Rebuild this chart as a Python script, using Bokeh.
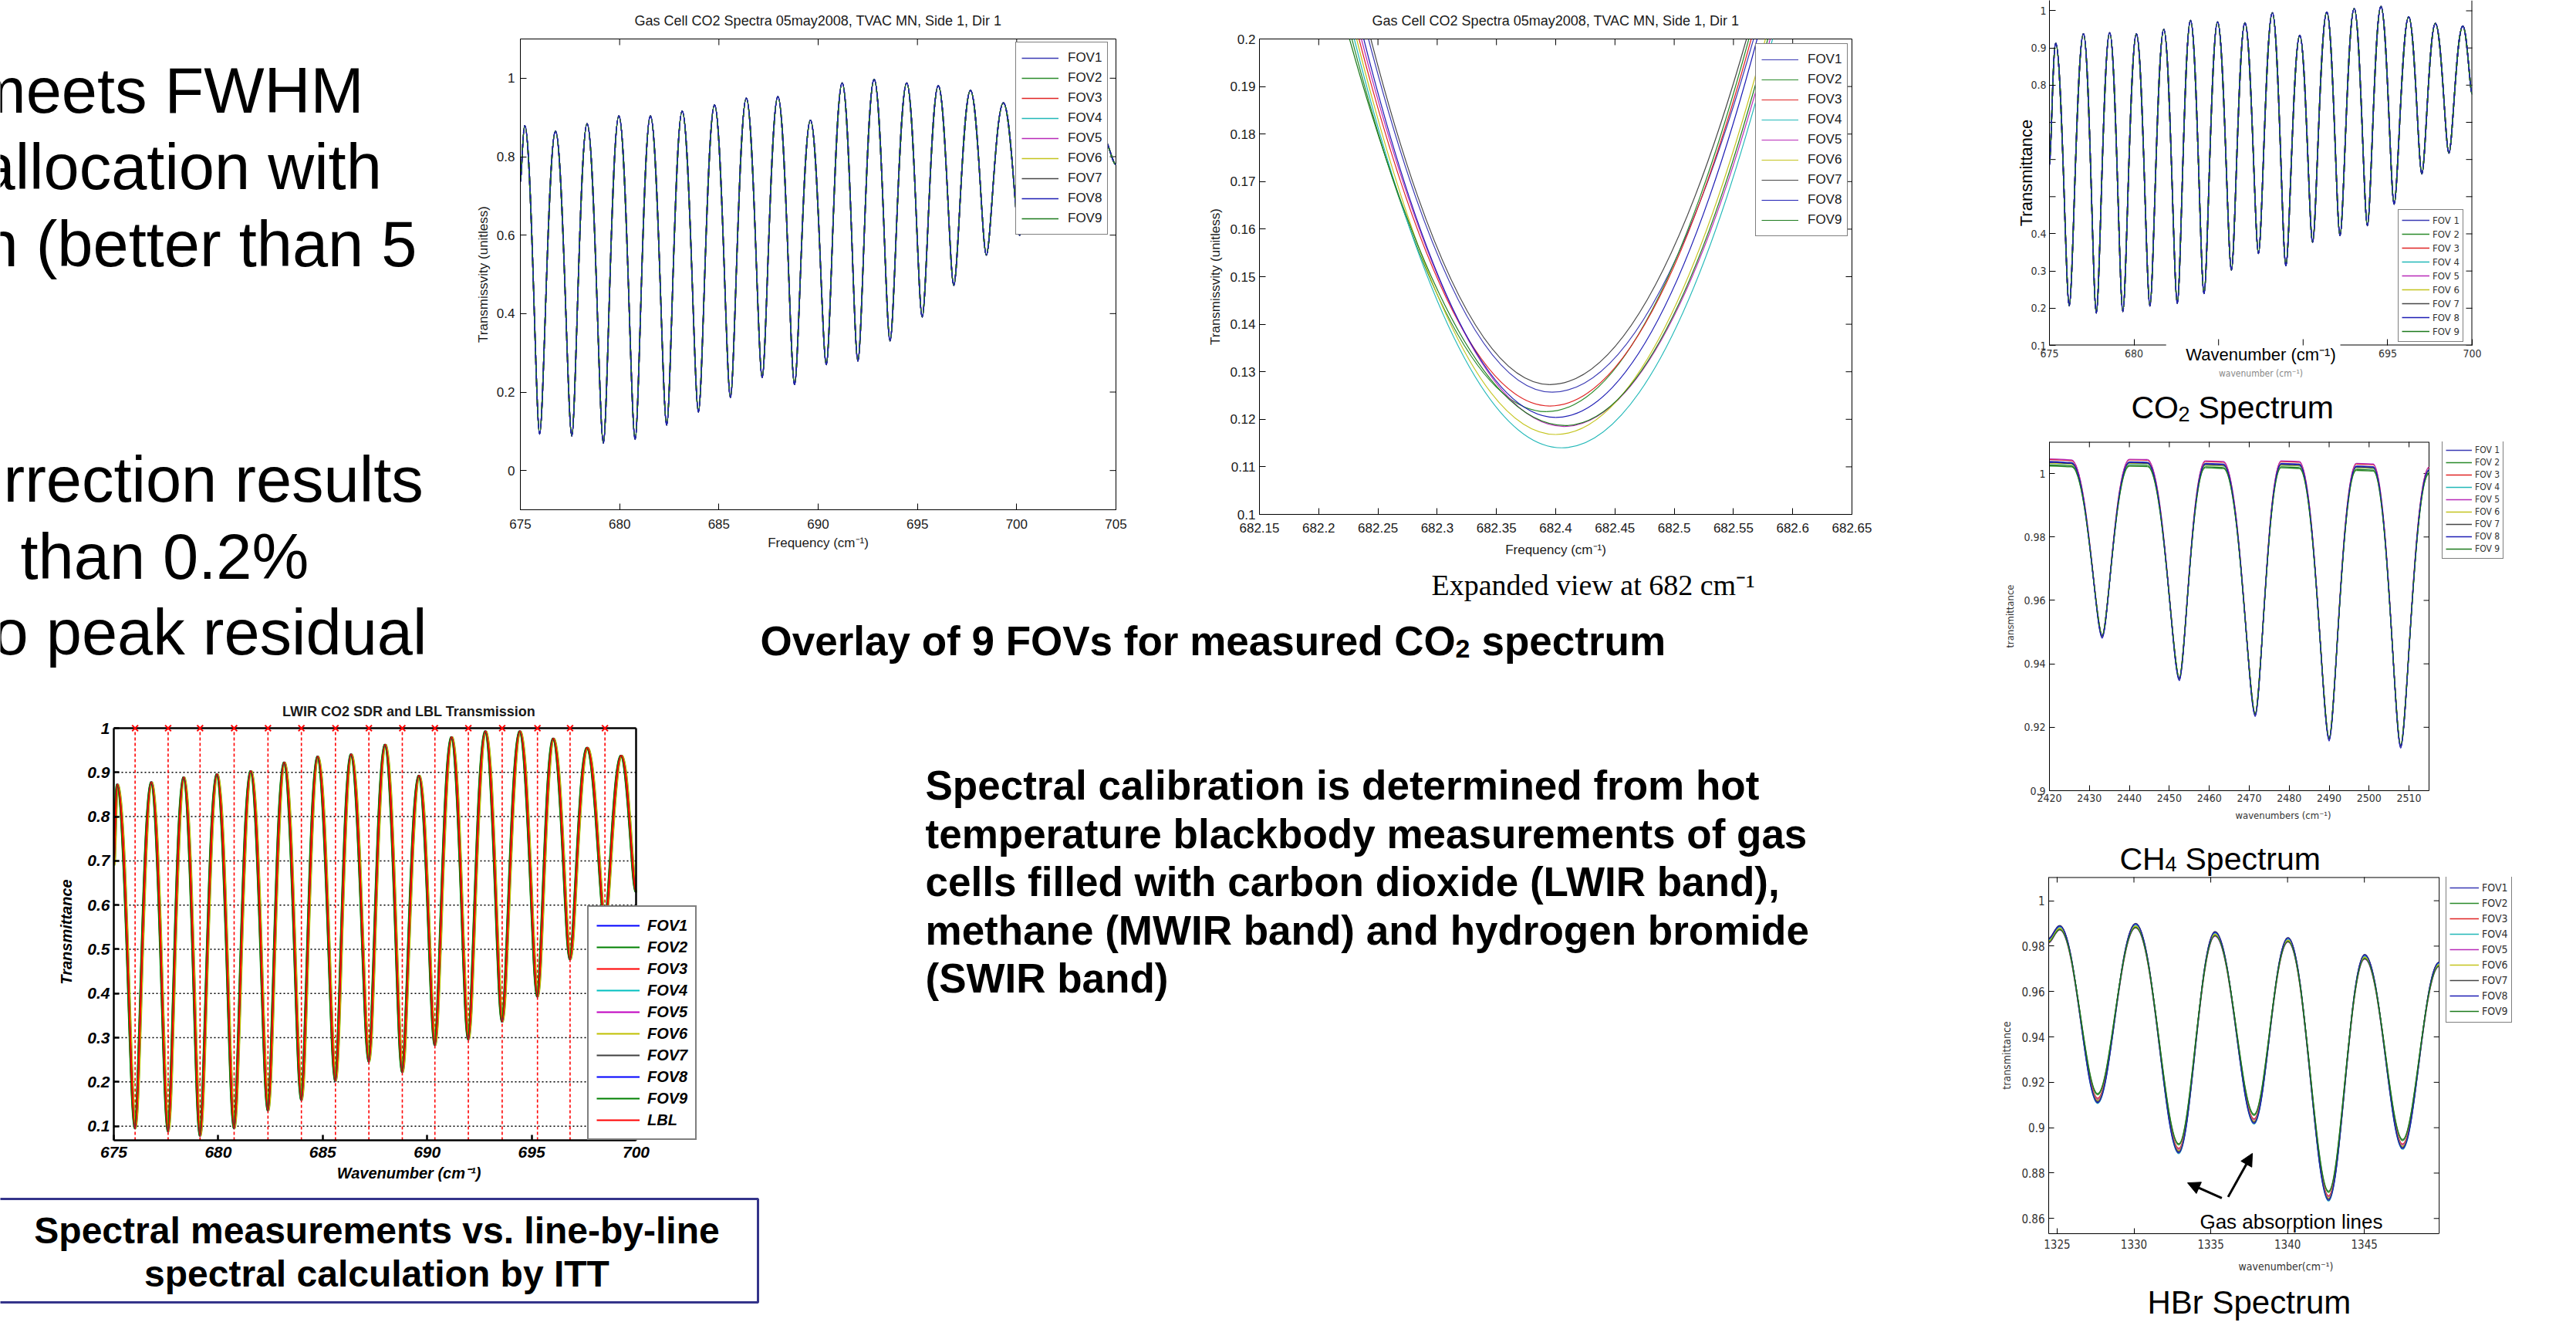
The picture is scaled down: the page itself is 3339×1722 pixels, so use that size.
import numpy as np
from bokeh.plotting import figure
from bokeh.layouts import row, column
from bokeh.models import (Range1d, FixedTicker, LinearAxis, Legend, LegendItem,
                          Arrow, NormalHead, Label, ColumnDataSource)
from bokeh.embed import file_html
from bokeh.resources import INLINE
from bokeh.core.properties import value

# ------------------------------------------------------------------ data ----
FOV_LABELS = ["FOV1", "FOV2", "FOV3", "FOV4", "FOV5", "FOV6", "FOV7", "FOV8", "FOV9"]
FOV_LABELS_SPACED = ["FOV 1", "FOV 2", "FOV 3", "FOV 4", "FOV 5", "FOV 6", "FOV 7", "FOV 8", "FOV 9"]
LWIR_LABELS = FOV_LABELS + ["LBL"]

# Plot 1: Gas Cell CO2 Spectra (675-705), extrema of the (overlapping) FOV spectra
P1_XTICKS = [675, 680, 685, 690, 695, 700, 705]
P1_YTICKS = [0, 0.2, 0.4, 0.6, 0.8, 1.0]
CO2A_X = [675.0, 675.22, 675.97, 676.77, 677.59, 678.36, 679.18, 679.96, 680.78, 681.55,
          682.37, 683.15, 683.97, 684.78, 685.58, 686.38, 687.18, 687.97, 688.81, 689.61,
          690.41, 691.21, 692.0, 692.82, 693.62, 694.46, 695.24, 696.05, 696.83, 697.67,
          698.47, 699.33, 700.15, 700.95, 701.75, 702.6, 703.35, 704.2, 705.0]
CO2A_Y = [0.735, 0.879, 0.093, 0.865, 0.088, 0.884, 0.070, 0.904, 0.079, 0.904,
          0.116, 0.916, 0.149, 0.932, 0.186, 0.949, 0.237, 0.953, 0.219, 0.893,
          0.270, 0.988, 0.279, 0.997, 0.330, 0.988, 0.391, 0.981, 0.472, 0.969,
          0.549, 0.937, 0.600, 0.920, 0.640, 0.900, 0.680, 0.860, 0.780]

# Plot 2: expanded view of the 682.4 line, one curve per FOV
P2_XTICKS = [682.15, 682.2, 682.25, 682.3, 682.35, 682.4, 682.45, 682.5, 682.55, 682.6, 682.65]
P2_YTICKS = [0.1, 0.11, 0.12, 0.13, 0.14, 0.15, 0.16, 0.17, 0.18, 0.19, 0.2]
EXP_EDGE_Y = 0.2
EXP_XLEFT = [682.242, 682.228, 682.234, 682.230, 682.236, 682.232, 682.244, 682.238, 682.226]
EXP_XMIN = [682.397, 682.392, 682.395, 682.405, 682.407, 682.400, 682.395, 682.400, 682.408]
EXP_YMIN = [0.1257, 0.1216, 0.1228, 0.1140, 0.1185, 0.1168, 0.1273, 0.1204, 0.1187]
EXP_XRIGHT = [682.567, 682.563, 682.565, 682.583, 682.581, 682.577, 682.561, 682.570, 682.579]

# Plot 3: CO2 spectrum (right column)
P3_XTICKS = [675, 680, 685, 690, 695, 700]
P3_XLABELLED = [675, 680, 695, 700]
P3_YTICKS = [0.1, 0.2, 0.3, 0.4, 0.5, 0.6, 0.7, 0.8, 0.9, 1.0]
P3_YLABELLED = [0.1, 0.2, 0.3, 0.4, 0.8, 0.9, 1.0]
P3_AXIS_GAP = (681.9, 692.2)
CO2B_X = [675.0, 675.37, 676.17, 677.01, 677.77, 678.56, 679.34, 680.14, 680.94, 681.76,
          682.56, 683.34, 684.14, 684.94, 685.76, 686.56, 687.36, 688.18, 688.98, 689.80,
          690.56, 691.40, 692.18, 693.02, 693.80, 694.60, 695.38, 696.24, 697.02, 697.82,
          698.62, 699.44, 700.0]
CO2B_Y = [0.584, 0.913, 0.206, 0.938, 0.187, 0.941, 0.191, 0.938, 0.206, 0.950,
          0.213, 0.974, 0.239, 0.970, 0.302, 0.968, 0.347, 0.995, 0.314, 0.934,
          0.377, 0.997, 0.395, 1.006, 0.422, 1.012, 0.480, 0.984, 0.561, 0.966,
          0.617, 0.959, 0.776]

# Plot 4: CH4 spectrum (plateau edges and line centres)
CH4_XLIM = (2420, 2515)
CH4_YLIM = (0.9, 1.01)
CH4_XTICKS = [2420, 2430, 2440, 2450, 2460, 2470, 2480, 2490, 2500, 2510]
CH4_YTICKS = [0.9, 0.92, 0.94, 0.96, 0.98, 1.0]
CH4_X = [2420.0, 2425.5, 2433.2, 2440.0, 2444.5, 2452.5, 2459.0, 2463.5, 2471.5,
         2478.0, 2482.5, 2490.0, 2496.8, 2501.0, 2507.9, 2515.0]
CH4_Y = [1.0036, 1.0033, 0.9487, 1.0035, 1.0034, 0.9353, 1.0030, 1.0028, 0.9240,
         1.0030, 1.0028, 0.9163, 1.0022, 1.0020, 0.9140, 1.0010]
CH4_FOV_DPEAK = [0.0002, -0.0012, 0.0008, -0.0004, 0.0010, -0.0003, -0.0001, 0.0, -0.0009]
CH4_FOV_DTROUGH = [-0.0004, 0.0003, 0.0, 0.0002, 0.0, 0.0004, 0.0, -0.0006, 0.0002]

# Plot 5: HBr spectrum
HBR_XLIM = (1324.45, 1349.87)
HBR_YLIM = (0.8533, 1.0104)
HBR_XTICKS = [1325, 1330, 1335, 1340, 1345]
HBR_YTICKS = [0.86, 0.88, 0.9, 0.92, 0.94, 0.96, 0.98, 1.0]
HBR_X = [1324.45, 1325.17, 1327.64, 1330.11, 1332.92, 1335.28, 1337.82, 1340.03,
         1342.67, 1345.02, 1347.49, 1349.87]
HBR_Y = [0.9826, 0.9883, 0.9115, 0.9892, 0.8894, 0.9856, 0.9024, 0.9830,
         0.8685, 0.9755, 0.8913, 0.9722]
HBR_FOV_DPEAK = [0.0005, -0.0008, -0.0005, 0.0, -0.0012, -0.0004, 0.0008, 0.0006, -0.0010]
HBR_FOV_DTROUGH = [0.0, 0.0030, 0.0015, -0.0008, 0.0010, 0.0005, 0.0, -0.0005, 0.0035]
HBR_ARROWS = [(1335.72, 0.8690, 1333.49, 0.8757), (1336.13, 0.8695, 1337.71, 0.8887)]
HBR_NOTE = ("Gas absorption lines", 1334.29, 0.8585)

# Plot 6: LWIR CO2 SDR and LBL transmission
LWIR_XTICKS = [675, 680, 685, 690, 695, 700]
LWIR_YTICKS = [0.1, 0.2, 0.3, 0.4, 0.5, 0.6, 0.7, 0.8, 0.9, 1.0]
LWIR_GRID = [0.1, 0.2, 0.3, 0.4, 0.5, 0.6, 0.7, 0.8, 0.9]
LWIR_X = [675.0, 675.17, 676.02, 676.80, 677.60, 678.35, 679.13, 679.94, 680.76, 681.56,
          682.38, 683.16, 683.98, 684.76, 685.61, 686.36, 687.21, 687.99, 688.81, 689.61,
          690.37, 691.17, 691.97, 692.79, 693.59, 694.44, 695.28, 696.04, 696.84, 697.66,
          698.51, 699.29, 700.0]
LWIR_Y = [0.69, 0.873, 0.095, 0.878, 0.088, 0.889, 0.078, 0.896, 0.095, 0.903,
          0.135, 0.923, 0.159, 0.936, 0.202, 0.941, 0.246, 0.963, 0.222, 0.893,
          0.283, 0.980, 0.296, 0.993, 0.336, 0.993, 0.393, 0.977, 0.477, 0.956,
          0.560, 0.938, 0.63]
LWIR_FOV_DX = [0.02, -0.03, 0.01, 0.04, -0.02, 0.05, 0.0, -0.01, -0.04]
LWIR_LINE_CENTRES = [676.02, 677.60, 679.13, 680.76, 682.38, 683.98, 685.61, 687.21,
                     688.81, 690.37, 691.97, 693.59, 695.28, 696.84, 698.51]
LWIR_XMAX, LWIR_YMAX = 700, 1.0

# slide texts
SLIDE_LEFT_LINES = ["meets FWHM", "allocation with", "n (better than 5",
                    "rrection results", "than 0.2%", "o peak residual"]
SLIDE_CENTER_LINES = ["Spectral calibration is determined from hot",
                      "temperature blackbody measurements of gas",
                      "cells filled with carbon dioxide (LWIR band),",
                      "methane (MWIR band) and hydrogen bromide",
                      "(SWIR band)"]
CAPTION_BOX_LINES = ["Spectral measurements vs. line-by-line", "spectral calculation by ITT"]

# ---------------------------------------------------------------- styles ----
SANS = "Liberation Sans"
NARROW = "Liberation Sans Narrow, DejaVu Sans Condensed, Liberation Sans"
SERIF = "Liberation Serif"
INK = "#1a1a1a"
GREY_INK = "#333333"
FOV_COLORS = ["#3a3ab4", "#2a8a2a", "#e02424", "#22b8b8", "#b82ab8",
              "#c4c41e", "#474747", "#1e1eb4", "#1c7a1c"]
LWIR_COLORS = ["#0000ff", "#008000", "#ff0000", "#00bfbf", "#bf00bf",
               "#bfbf00", "#404040", "#0000ff", "#008000"]
LBL_COLOR = "#ff0000"
BEZ = dict(x0="x0", y0="y0", x1="x1", y1="y1", cx0="cx0", cy0="cy0", cx1="cx1", cy1="cy1")
SUP = "cm\u207b\u00b9"


def no_align(p):
    try:
        p.frame_align = False
    except Exception:
        pass


def make_fig(w, h, xr, yr, ml, mr, mt, mb):
    p = figure(width=w, height=h, x_range=Range1d(*xr), y_range=Range1d(*yr),
               output_backend="svg", toolbar_location=None,
               min_border_left=ml, min_border_right=mr,
               min_border_top=mt, min_border_bottom=mb)
    no_align(p)
    p.background_fill_color = "white"
    p.border_fill_color = "white"
    p.outline_line_color = "black"
    p.grid.visible = False
    return p


def text_fig(x0, y0, w, h):
    t = figure(width=w, height=h, x_range=Range1d(x0, x0 + w), y_range=Range1d(y0 + h, y0),
               x_axis_location=None, y_axis_location=None, output_backend="svg",
               toolbar_location=None, min_border=0)
    no_align(t)
    t.grid.visible = False
    t.outline_line_color = None
    t.background_fill_color = "white"
    t.border_fill_color = "white"
    return t


def put(t, s, x, y, size, font=SANS, style="normal", align="left", color="black"):
    t.text(x=[x], y=[y], text=[s], text_font=value(font), text_font_size=f"{size}px",
           text_font_style=style, text_align=align, text_baseline="alphabetic",
           text_color=color)


def style_axis(ax, ticks, font, size, color=INK, style="normal", tick_len=6, standoff=5,
               line_w=1.0, label=None, label_size=None, label_standoff=5,
               label_font=None, label_style="normal", label_color=None):
    ax.ticker = FixedTicker(ticks=list(ticks))
    ax.major_label_overrides = {t: f"{t:g}" for t in ticks}
    ax.major_label_text_font = font
    ax.major_label_text_font_size = size
    ax.major_label_text_color = color
    ax.major_label_text_font_style = style
    ax.major_tick_in = tick_len
    ax.major_tick_out = 0
    ax.major_tick_line_color = "black"
    ax.major_tick_line_width = line_w
    ax.minor_tick_line_color = None
    ax.major_label_standoff = standoff
    ax.axis_line_color = "black"
    ax.axis_line_width = line_w
    if label is not None:
        ax.axis_label = label
        ax.axis_label_text_font = label_font or font
        ax.axis_label_text_font_size = label_size or size
        ax.axis_label_text_font_style = label_style
        ax.axis_label_text_color = label_color or color
        ax.axis_label_standoff = label_standoff


def edge_ticks_x(p, xs, y_edge, length, width=1.0):
    # inward tick marks along a horizontal frame edge (outer half is clipped by the frame)
    p.scatter(x=list(xs), y=[y_edge] * len(xs), marker="dash", angle=np.pi / 2,
              size=2 * length, line_color="black", line_width=width)


def edge_ticks_y(p, ys, x_edge, length, width=1.0):
    p.scatter(x=[x_edge] * len(ys), y=list(ys), marker="dash",
              size=2 * length, line_color="black", line_width=width)


def box_right(p, xlim, ylim, yticks, tick_len_data, width=1.0):
    # top and right sides of a MATLAB box drawn inside a frame that is wider than the axes
    p.segment(x0=[xlim[0], xlim[1]], y0=[ylim[1], ylim[0]], x1=[xlim[1], xlim[1]],
              y1=[ylim[1], ylim[1]], line_color="black", line_width=[2 * width, width])
    p.segment(x0=[xlim[1]] * len(yticks), y0=list(yticks),
              x1=[xlim[1] - tick_len_data] * len(yticks), y1=list(yticks),
              line_color="black", line_width=width)


def bez_source(xs, ys, a_hi, a_lo):
    xs = np.asarray(xs, float)
    ys = np.asarray(ys, float)
    x0, x1, y0, y1 = xs[:-1], xs[1:], ys[:-1], ys[1:]
    d = x1 - x0
    down = y0 >= y1
    a0 = np.where(down, a_hi, a_lo)
    a1 = np.where(down, a_lo, a_hi)
    return ColumnDataSource(dict(x0=x0, y0=y0, x1=x1, y1=y1,
                                 cx0=x0 + a0 * d, cy0=y0, cx1=x1 - a1 * d, cy1=y1))


def add_legend(p, labels, renderers, loc, font, size, item_h, glyph_w, padding, standoff,
               border_w=1.0, style="normal", text_color=INK):
    items = [LegendItem(label=lab, renderers=[r]) for lab, r in zip(labels, renderers)]
    lg = Legend(items=items, location=loc, label_text_font=font, label_text_font_size=size,
                label_text_font_style=style, label_text_color=text_color,
                label_height=item_h, glyph_height=item_h, glyph_width=glyph_w,
                spacing=0, padding=padding, margin=0, label_standoff=standoff,
                border_line_color="black", border_line_width=border_w,
                background_fill_color="white", background_fill_alpha=1.0)
    p.add_layout(lg)


def style_title(p, text, size, style="normal", offset=0, standoff=8):
    p.title.text = text
    p.title.align = "center"
    p.title.offset = offset
    p.title.text_font = SANS
    p.title.text_font_size = size
    p.title.text_font_style = style
    p.title.text_color = INK
    p.title.standoff = standoff


# ------------------------------------------------------------ text areas ----
tl = text_fig(0, 0, 600, 890)
for s, x, y in zip(SLIDE_LEFT_LINES, [-36, -27, -23, 4, 26, -10], [117, 216, 316, 621, 721, 819]):
    put(tl, s, x, y, 83)

ovl = text_fig(600, 790, 1990, 100)
put(ovl, "Overlay of 9 FOVs for measured CO", 985, 830, 53, style="bold")
put(ovl, "2", 1886, 840, 34, style="bold")
put(ovl, "spectrum", 1920, 830, 53, style="bold")

expcap = text_fig(1560, 735, 1030, 55)
put(expcap, f"Expanded view at 682 {SUP}", 1855, 757, 38, font=SERIF)

ctr = text_fig(985, 890, 1605, 832)
for i, s in enumerate(SLIDE_CENTER_LINES):
    put(ctr, s, 1199, 1017 + 62.5 * i, 53, style="bold")

cap = text_fig(0, 1550, 985, 172)
cap.quad(left=[-5], right=[982], top=[1553], bottom=[1687], fill_color=None,
         line_color="#34348a", line_width=3)
put(cap, CAPTION_BOX_LINES[0], 488, 1594, 48, style="bold", align="center")
put(cap, CAPTION_BOX_LINES[1], 488, 1650, 48, style="bold", align="center")

t_co2 = text_fig(2590, 500, 749, 60)
put(t_co2, "CO", 2762, 527, 41)
put(t_co2, "2", 2823, 536, 27)
put(t_co2, "Spectrum", 2849, 527, 41)

t_ch4 = text_fig(2590, 1090, 749, 46)
put(t_ch4, "CH", 2747, 1112, 41)
put(t_ch4, "4", 2806, 1119, 27)
put(t_ch4, "Spectrum", 2832, 1112, 41)

t_hbr = text_fig(2590, 1660, 749, 62)
put(t_hbr, "HBr Spectrum", 2783, 1687, 42)

# ------------------------------------------------- plot 1: full CO2 band ----
p1 = make_fig(960, 790, (675, 705), (-0.1, 1.1), ml=74, mr=114, mt=50, mb=130)
style_title(p1, "Gas Cell CO2 Spectra 05may2008, TVAC MN, Side 1, Dir 1", "18px", standoff=28)
style_axis(p1.xaxis[0], P1_XTICKS, SANS, "17px", tick_len=8, standoff=12,
           label=f"Frequency ({SUP})", label_size="17px", label_standoff=6)
style_axis(p1.yaxis[0], P1_YTICKS, SANS, "17px", tick_len=8, standoff=7,
           label="Transmissvity (unitless)", label_size="17px", label_standoff=5)
edge_ticks_x(p1, P1_XTICKS[1:-1], 1.1, 8)
edge_ticks_y(p1, P1_YTICKS, 705, 8)
src1 = bez_source(CO2A_X, CO2A_Y, 0.45, 0.25)
r1 = [p1.bezier(source=src1, line_color=c, line_width=1.5, **BEZ) for c in FOV_COLORS]
p1.bezier(source=src1, line_color=FOV_COLORS[7], line_width=1.5, line_dash="5 4", **BEZ)
add_legend(p1, FOV_LABELS, r1, (642, 356), SANS, "17px", 26, 48, 7, 12)

# ---------------------------------------------- plot 2: expanded 682.4 ----
p2 = make_fig(1030, 735, (682.15, 682.65), (0.1, 0.2), ml=72, mr=190, mt=47, mb=69)
style_title(p2, "Gas Cell CO2 Spectra 05may2008, TVAC MN, Side 1, Dir 1", "18px", standoff=28)
style_axis(p2.xaxis[0], P2_XTICKS, SANS, "17px", tick_len=8, standoff=11,
           label=f"Frequency ({SUP})", label_size="17px", label_standoff=10)
style_axis(p2.yaxis[0], P2_YTICKS, SANS, "17px", tick_len=8, standoff=5,
           label="Transmissvity (unitless)", label_size="17px", label_standoff=6)
edge_ticks_x(p2, P2_XTICKS[1:-1], 0.2, 8)
edge_ticks_y(p2, P2_YTICKS[1:-1], 682.65, 8)
r2 = []
for i, c in enumerate(FOV_COLORS):
    xl, xm, ym, xr = EXP_XLEFT[i], EXP_XMIN[i], EXP_YMIN[i], EXP_XRIGHT[i]
    s = ColumnDataSource(dict(x0=[xl, xm], y0=[EXP_EDGE_Y, ym], x1=[xm, xr], y1=[ym, EXP_EDGE_Y],
                              cx=[(xl + xm) / 2, (xm + xr) / 2], cy=[ym, ym]))
    r2.append(p2.quadratic(x0="x0", y0="y0", x1="x1", y1="y1", cx="cx", cy="cy", source=s,
                           line_color=c, line_width=1.2))
add_legend(p2, FOV_LABELS, r2, (643, 360), SANS, "17px", 26, 48, 7, 12)

# ------------------------------------------------ plot 3: CO2 (right) ----
p3 = make_fig(749, 500, (675, 700), (0.1, 1.028), ml=66, mr=135, mt=0, mb=53)
p3.outline_line_color = None
style_axis(p3.xaxis[0], P3_XLABELLED, NARROW, "14px", color=GREY_INK, tick_len=8, standoff=5,
           label=f"Wavenumber ({SUP})", label_font=SANS, label_size="22px",
           label_standoff=-19, label_color="black")
p3.xaxis[0].axis_line_color = None
style_axis(p3.yaxis[0], P3_YLABELLED, NARROW, "14px", color=GREY_INK, tick_len=8, standoff=4,
           label="Transmittance", label_font=SANS, label_size="22px",
           label_standoff=-10, label_color="black")
small_x = LinearAxis(ticker=FixedTicker(ticks=[]), axis_line_color=None,
                     major_tick_line_color=None, minor_tick_line_color=None,
                     axis_label=f"wavenumber ({SUP})", axis_label_text_font=NARROW,
                     axis_label_text_font_size="12px", axis_label_text_font_style="normal",
                     axis_label_text_color="#888888", axis_label_standoff=2)
p3.add_layout(small_x, "below")
p3.segment(x0=[675, P3_AXIS_GAP[1]], y0=[0.1, 0.1], x1=[P3_AXIS_GAP[0], 700], y1=[0.1, 0.1],
           line_color="black", line_width=2)
p3.segment(x0=[700], y0=[0.1], x1=[700], y1=[1.028], line_color="black", line_width=2)
edge_ticks_x(p3, [685, 690], 0.1, 8)
edge_ticks_y(p3, [0.5, 0.6, 0.7], 675, 8)
edge_ticks_y(p3, P3_YTICKS, 700, 8)
src3 = bez_source(CO2B_X, CO2B_Y, 0.45, 0.25)
r3 = [p3.bezier(source=src3, line_color=c, line_width=1.5, **BEZ) for c in FOV_COLORS]
p3.bezier(source=src3, line_color=FOV_COLORS[7], line_width=1.5, line_dash="5 4", **BEZ)
add_legend(p3, FOV_LABELS_SPACED, r3, (452, 4), NARROW, "13px", 18, 36, 4, 4,
           text_color=GREY_INK)

# -------------------------------------------------------- plot 4: CH4 ----
# the frame reaches past the axes box so that the outside legend sits inside it
P4_AXES_W, P4_FRAME_W = 492, 606
p4_xr = (CH4_XLIM[0], CH4_XLIM[0] + (CH4_XLIM[1] - CH4_XLIM[0]) * P4_FRAME_W / P4_AXES_W)
p4 = make_fig(749, 530, p4_xr, CH4_YLIM, ml=66, mr=749 - 66 - P4_FRAME_W, mt=12, mb=66)
p4.outline_line_color = None
style_axis(p4.xaxis[0], CH4_XTICKS, NARROW, "14px", color=GREY_INK, tick_len=7, standoff=4,
           label=f"wavenumbers ({SUP})", label_size="13px", label_standoff=7)
p4.xaxis[0].bounds = CH4_XLIM
style_axis(p4.yaxis[0], CH4_YTICKS, NARROW, "14px", color=GREY_INK, tick_len=7, standoff=5,
           label="transmittance", label_size="13px", label_standoff=7)
edge_ticks_x(p4, CH4_XTICKS[1:], CH4_YLIM[1], 7)
box_right(p4, CH4_XLIM, CH4_YLIM, CH4_YTICKS, 7 * (CH4_XLIM[1] - CH4_XLIM[0]) / P4_AXES_W)
ch4_y = np.asarray(CH4_Y)
ch4_is_peak = ch4_y > 0.99
r4 = []
for i, c in enumerate(FOV_COLORS):
    yy = ch4_y + np.where(ch4_is_peak, CH4_FOV_DPEAK[i], CH4_FOV_DTROUGH[i])
    r4.append(p4.bezier(source=bez_source(CH4_X, yy, 0.5, 0.2), line_color=c,
                        line_width=1.3, **BEZ))
p4.bezier(source=bez_source(CH4_X, CH4_Y, 0.5, 0.2), line_color=FOV_COLORS[7],
          line_width=1.3, line_dash="4 4", **BEZ)
add_legend(p4, FOV_LABELS_SPACED, r4, (509, 300), NARROW, "12px", 16, 34, 4, 4,
           text_color=GREY_INK)

# -------------------------------------------------------- plot 5: HBr ----
P5_AXES_W, P5_FRAME_W = 507, 616
p5_xr = (HBR_XLIM[0], HBR_XLIM[0] + (HBR_XLIM[1] - HBR_XLIM[0]) * P5_FRAME_W / P5_AXES_W)
p5 = make_fig(749, 524, p5_xr, HBR_YLIM, ml=64, mr=749 - 64 - P5_FRAME_W, mt=0, mb=62)
p5.outline_line_color = None
style_axis(p5.xaxis[0], HBR_XTICKS, NARROW, "15px", color=GREY_INK, tick_len=7, standoff=7,
           label=f"wavenumber({SUP})", label_size="14px", label_standoff=12)
p5.xaxis[0].bounds = HBR_XLIM
style_axis(p5.yaxis[0], HBR_YTICKS, NARROW, "15px", color=GREY_INK, tick_len=7, standoff=5,
           label="transmittance", label_size="14px", label_standoff=8)
edge_ticks_x(p5, HBR_XTICKS, HBR_YLIM[1], 7)
box_right(p5, HBR_XLIM, HBR_YLIM, HBR_YTICKS, 7 * (HBR_XLIM[1] - HBR_XLIM[0]) / P5_AXES_W)
hbr_y = np.asarray(HBR_Y)
hbr_is_peak = hbr_y > 0.95
r5 = []
for i, c in enumerate(FOV_COLORS):
    yy = hbr_y + np.where(hbr_is_peak, HBR_FOV_DPEAK[i], HBR_FOV_DTROUGH[i])
    r5.append(p5.bezier(source=bez_source(HBR_X, yy, 0.4, 0.32), line_color=c,
                        line_width=1.5, **BEZ))
add_legend(p5, FOV_LABELS, r5, (515, 273), NARROW, "14px", 20, 38, 4, 4,
           text_color=GREY_INK)
for xs_, ys_, xe_, ye_ in HBR_ARROWS:
    p5.add_layout(Arrow(end=NormalHead(size=16, fill_color="black", line_color="black"),
                        x_start=xs_, y_start=ys_, x_end=xe_, y_end=ye_,
                        line_color="black", line_width=3))
p5.add_layout(Label(x=HBR_NOTE[1], y=HBR_NOTE[2], text=HBR_NOTE[0], text_font=SANS,
                    text_font_size="26px", text_baseline="alphabetic", text_color="black"))

# ------------------------------------------------------- plot 6: LWIR ----
P6_XR = (675, 703.25)
P6_YR = (0.068, 1.0105)
p6 = make_fig(985, 660, P6_XR, P6_YR, ml=147, mr=73, mt=47, mb=73)
p6.outline_line_color = None
style_title(p6, "LWIR CO2 SDR and LBL Transmission", "18px", style="bold", offset=-45,
            standoff=11)
style_axis(p6.xaxis[0], LWIR_XTICKS, SANS, "21px", color="black", style="bold italic",
           tick_len=7, standoff=8, line_w=2.5, label=f"Wavenumber ({SUP})",
           label_size="20px", label_standoff=6, label_style="bold italic")
p6.xaxis[0].bounds = (P6_XR[0], LWIR_XMAX)
style_axis(p6.yaxis[0], LWIR_YTICKS, SANS, "21px", color="black", style="bold italic",
           tick_len=7, standoff=5, line_w=2.5, label="Transmittance",
           label_size="20px", label_standoff=13, label_style="bold italic")
p6.yaxis[0].bounds = (P6_YR[0], LWIR_YMAX)
n_g = len(LWIR_GRID)
p6.segment(x0=[P6_XR[0]] * n_g, y0=LWIR_GRID, x1=[LWIR_XMAX] * n_g, y1=LWIR_GRID,
           line_color="black", line_dash="2 3", line_width=1.5)
n_lc = len(LWIR_LINE_CENTRES)
p6.segment(x0=LWIR_LINE_CENTRES, y0=[P6_YR[0]] * n_lc, x1=LWIR_LINE_CENTRES,
           y1=[LWIR_YMAX] * n_lc, line_color="red", line_dash="4 3", line_width=1.6)
r6 = []
for i, c in enumerate(LWIR_COLORS):
    r6.append(p6.bezier(source=bez_source(np.asarray(LWIR_X) + LWIR_FOV_DX[i], LWIR_Y, 0.45, 0.25),
                        line_color=c, line_width=2.0, **BEZ))
r6.append(p6.bezier(source=bez_source(LWIR_X, LWIR_Y, 0.45, 0.25), line_color=LBL_COLOR,
                    line_width=2.0, **BEZ))
p6.segment(x0=[P6_XR[0], LWIR_XMAX], y0=[LWIR_YMAX, P6_YR[0]], x1=[LWIR_XMAX, LWIR_XMAX],
           y1=[LWIR_YMAX, LWIR_YMAX], line_color="black", line_width=2.5)
p6.scatter(x=LWIR_LINE_CENTRES, y=[LWIR_YMAX] * n_lc, marker="x", size=11,
           line_color="red", line_width=2)
add_legend(p6, LWIR_LABELS, r6, (614, 0), SANS, "20px", 28, 56, 10, 10,
           border_w=2.0, style="bold italic", text_color="black")

# ------------------------------------------------------------- layout ----
top_mid = column(row(p1, column(p2, expcap)), ovl)
top_row = row(tl, top_mid)
bottom_row = row(column(p6, cap), ctr)
left = column(top_row, bottom_row)
colc = column(p3, t_co2, p4, t_ch4, p5, t_hbr)
layout = row(left, colc)

open("out.html", "w").write(file_html(layout, INLINE))
